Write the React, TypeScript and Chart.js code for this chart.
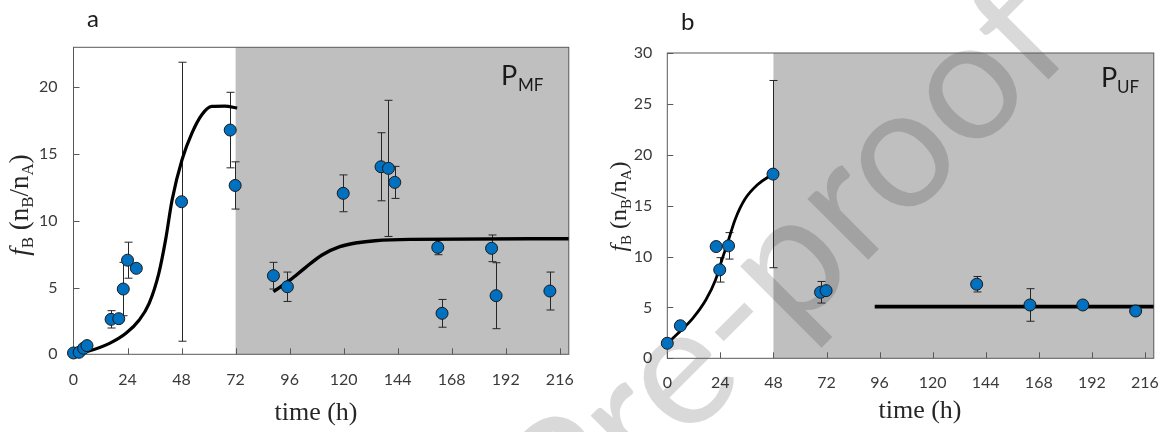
import React, { useEffect, useRef } from 'react';
import { Chart, registerables } from 'chart.js';

Chart.register(...registerables);

// ---------- Panel a data ----------
const aTime = [0, 2.5, 4.5, 6, 16.7, 20.1, 22.1, 24, 27.9, 48, 69.6, 71.8, 88.8, 95, 119.8, 136.6, 139.9, 142.7, 161.8, 163.7, 185.7, 187.7, 211.6];
const aValue = [0.1, 0.15, 0.45, 0.65, 2.62, 2.67, 4.89, 7.05, 6.44, 11.43, 16.8, 12.65, 5.89, 5.06, 12.06, 14.05, 13.93, 12.88, 8.01, 3.07, 7.94, 4.39, 4.74];
const aError = [0, 0, 0, 0, 0.65, 0.2, 2.0, 1.35, 0, 10.45, 2.83, 1.77, 1.0, 1.1, 1.38, 2.55, 5.1, 1.2, 0.55, 1.04, 1.0, 2.47, 1.42];
const aFitGrowthTime = [0, 5.7, 16, 23.3, 29.2, 33.6, 37.9, 40.9, 43.8, 48.2, 52.6, 57, 61.4, 67.2, 72.7];
const aFitGrowthValue = [0.02, 0.19, 0.82, 1.57, 2.57, 3.82, 6.07, 8.57, 11.57, 14.57, 16.57, 17.95, 18.57, 18.6, 18.45];
const aFitPhaseTime = [88.8, 96.3, 102.6, 110.4, 118.3, 126.1, 133.9, 149.6, 220];
const aFitPhaseValue = [4.69, 5.57, 6.44, 7.44, 8.06, 8.36, 8.51, 8.61, 8.66];

// ---------- Panel b data ----------
const bTime = [0, 5.9, 22.1, 23.7, 27.7, 47.8, 69.3, 71.8, 139.9, 164, 187.9, 211.8];
const bValue = [1.48, 3.2, 10.98, 8.69, 11.05, 18.1, 6.49, 6.65, 7.28, 5.24, 5.24, 4.65];
const bError = [0, 0, 0, 1.2, 1.3, 9.2, 1.06, 0.3, 0.76, 1.6, 0, 0];
const bFitGrowthTime = [0, 5.6, 11.5, 17.4, 21.8, 24.7, 27.7, 30.6, 35, 40.9, 47.5];
const bFitGrowthValue = [1.48, 2.62, 3.93, 5.73, 7.7, 9.67, 11.64, 13.6, 15.6, 17.08, 18.07];
const bFitPhaseTime = [93.8, 220];
const bFitPhaseValue = [5.08, 5.08];

// ---------- axes ----------
const TIME_MAX = 220;
const TIME_STEP = 24;
const VALUE_STEP = 5;
const aValueMax = 23;
const bValueMax = 30;
const aShadeFrom = 72;
const bShadeFrom = 48;

const TICK_FONT = 'Lato';
const SERIF = '"Liberation Serif"';

type Run = { t: string; font: string; dy?: number };

function drawRuns(ctx: CanvasRenderingContext2D, runs: Run[], x: number, y: number, center: boolean) {
  let w = 0;
  runs.forEach((r) => {
    ctx.font = r.font;
    w += ctx.measureText(r.t).width;
  });
  let cx = center ? x - w / 2 : x;
  ctx.textAlign = 'left';
  ctx.textBaseline = 'alphabetic';
  runs.forEach((r) => {
    ctx.font = r.font;
    ctx.fillText(r.t, cx, y + (r.dy || 0));
    cx += ctx.measureText(r.t).width;
  });
}

interface PanelCfg {
  width: number;
  offsetX: number;
  padTop: number;
  padRight: number;
  yAxisWidth: number;
  xAxisHeight: number;
  yMax: number;
  shadeFrom: number;
  time: number[];
  value: number[];
  error: number[];
  fits: { x: number[]; y: number[]; w: number }[];
  letter: string;
  letterPos: [number, number];
  phase: string;
  phasePos: [number, number];
  phaseSub: string;
  subPos: [number, number];
  yTitleSize: number;
  yTitlePos: [number, number];
  xTitlePos: [number, number];
  yTickPad: number;
  xTickPad: number;
}

const panelA: PanelCfg = {
  width: 590,
  offsetX: 0,
  padTop: 47.3,
  padRight: 16,
  yAxisWidth: 73.5,
  xAxisHeight: 77.7,
  yMax: aValueMax,
  shadeFrom: aShadeFrom,
  time: aTime,
  value: aValue,
  error: aError,
  fits: [
    { x: aFitGrowthTime, y: aFitGrowthValue, w: 3.2 },
    { x: aFitPhaseTime, y: aFitPhaseValue, w: 3.4 },
  ],
  letter: 'a',
  letterPos: [87, 27],
  phase: 'P',
  phasePos: [501, 85],
  phaseSub: 'MF',
  subPos: [518, 90.7],
  yTitleSize: 27,
  yTitlePos: [27.5, 205],
  xTitlePos: [316, 420],
  yTickPad: 16,
  xTickPad: 16,
};

const panelB: PanelCfg = {
  width: 584,
  offsetX: 590,
  padTop: 53,
  padRight: 8,
  yAxisWidth: 77.3,
  xAxisHeight: 73.7,
  yMax: bValueMax,
  shadeFrom: bShadeFrom,
  time: bTime,
  value: bValue,
  error: bError,
  fits: [
    { x: bFitGrowthTime, y: bFitGrowthValue, w: 2.8 },
    { x: bFitPhaseTime, y: bFitPhaseValue, w: 3.6 },
  ],
  letter: 'b',
  letterPos: [91, 30],
  phase: 'P',
  phasePos: [511, 86.7],
  phaseSub: 'UF',
  subPos: [527, 93.3],
  yTitleSize: 24,
  yTitlePos: [36, 206.5],
  xTitlePos: [330, 418],
  yTickPad: 15,
  xTickPad: 15,
};

function makeDecor(cfg: PanelCfg) {
  return {
    id: 'panelDecor',
    beforeDatasetsDraw(chart: any) {
      const { ctx, chartArea: ca, scales } = chart;
      const xs = scales.x;
      const ys = scales.y;
      ctx.save();
      // shaded phase region
      const gx = xs.getPixelForValue(cfg.shadeFrom);
      ctx.fillStyle = '#bfbfbf';
      ctx.fillRect(gx, ca.top, ca.right - gx, ca.bottom - ca.top);

      // watermark
      ctx.save();
      ctx.translate(572 - cfg.offsetX, 556);
      ctx.rotate(-Math.PI / 4);
      ctx.font = '170px Lato';
      ctx.fillStyle = 'rgba(0,0,0,0.15)';
      ctx.textAlign = 'left';
      ctx.textBaseline = 'alphabetic';
      ctx.fillText('Pre-proof', 0, 0);
      ctx.restore();

      // frame
      ctx.strokeStyle = '#595959';
      ctx.lineWidth = 1;
      ctx.strokeRect(ca.left, ca.top, ca.right - ca.left, ca.bottom - ca.top);
      // inward tick marks
      ctx.beginPath();
      xs.ticks.forEach((t: any) => {
        const px = Math.round(xs.getPixelForValue(t.value)) + 0.5;
        ctx.moveTo(px, ca.bottom);
        ctx.lineTo(px, ca.bottom - 6);
      });
      ys.ticks.forEach((t: any) => {
        const py = Math.round(ys.getPixelForValue(t.value)) + 0.5;
        ctx.moveTo(ca.left, py);
        ctx.lineTo(ca.left + 6, py);
      });
      ctx.stroke();

      // error bars
      ctx.strokeStyle = '#262626';
      ctx.lineWidth = 1;
      ctx.beginPath();
      cfg.time.forEach((t, i) => {
        const e = cfg.error[i];
        if (!e) return;
        const px = Math.round(xs.getPixelForValue(t)) + 0.5;
        const y1 = ys.getPixelForValue(cfg.value[i] + e);
        const y2 = ys.getPixelForValue(cfg.value[i] - e);
        ctx.moveTo(px, y1);
        ctx.lineTo(px, y2);
        ctx.moveTo(px - 4, y1);
        ctx.lineTo(px + 4, y1);
        ctx.moveTo(px - 4, y2);
        ctx.lineTo(px + 4, y2);
      });
      ctx.stroke();
      ctx.restore();
    },
    afterDraw(chart: any) {
      const { ctx } = chart;
      ctx.save();
      ctx.fillStyle = '#1a1a1a';
      // panel letter
      drawRuns(ctx, [{ t: cfg.letter, font: '24px Lato' }], cfg.letterPos[0], cfg.letterPos[1], false);
      // phase label
      drawRuns(ctx, [{ t: cfg.phase, font: '27px Lato' }], cfg.phasePos[0], cfg.phasePos[1], false);
      drawRuns(ctx, [{ t: cfg.phaseSub, font: '17px Lato' }], cfg.subPos[0], cfg.subPos[1], false);
      // x title
      ctx.fillStyle = '#262626';
      drawRuns(ctx, [{ t: 'time (h)', font: `26px ${SERIF}` }], cfg.xTitlePos[0], cfg.xTitlePos[1], true);
      // y title
      const s = cfg.yTitleSize;
      const sub = Math.round(s * 0.62);
      const norm = `${s}px ${SERIF}`;
      const subF = `${sub}px ${SERIF}`;
      const dy = s * 0.2;
      ctx.translate(cfg.yTitlePos[0], cfg.yTitlePos[1]);
      ctx.rotate(-Math.PI / 2);
      drawRuns(
        ctx,
        [
          { t: 'f', font: `italic ${s}px ${SERIF}` },
          { t: 'B', font: subF, dy },
          { t: ' (n', font: norm },
          { t: 'B', font: subF, dy },
          { t: '/n', font: norm },
          { t: 'A', font: subF, dy },
          { t: ')', font: norm },
        ],
        0,
        0,
        true
      );
      ctx.restore();
    },
  };
}

const keepSteps = (step: number) => (s: any) => {
  s.ticks = s.ticks.filter((t: any) => Math.abs(t.value / step - Math.round(t.value / step)) < 1e-6);
};

function PanelChart({ cfg }: { cfg: PanelCfg }) {
  const ref = useRef<HTMLCanvasElement | null>(null);
  useEffect(() => {
    if (!ref.current) return;
    const pointData = cfg.time.map((t, i) => ({ x: t, y: cfg.value[i] }));
    const fitSets = cfg.fits.map((f) => ({
      type: 'line' as const,
      data: f.x.map((t, i) => ({ x: t, y: f.y[i] })),
      borderColor: '#000000',
      borderWidth: f.w,
      pointRadius: 0,
      fill: false,
      cubicInterpolationMode: 'monotone' as const,
      order: 2,
    }));
    const chart = new Chart(ref.current, {
      type: 'scatter',
      data: {
        datasets: [
          {
            type: 'scatter',
            data: pointData,
            pointRadius: 6,
            pointBorderWidth: 1,
            pointBackgroundColor: '#0070c0',
            pointBorderColor: '#1a1a1a',
            clip: false,
            order: 1,
          } as any,
          ...fitSets,
        ],
      },
      options: {
        animation: false,
        responsive: false,
        maintainAspectRatio: false,
        devicePixelRatio: 1,
        events: [],
        layout: { padding: { top: cfg.padTop, right: cfg.padRight, left: 0, bottom: 0 } },
        plugins: { legend: { display: false }, tooltip: { enabled: false } },
        scales: {
          x: {
            type: 'linear',
            min: 0,
            max: TIME_MAX,
            bounds: 'data',
            grid: { display: false, drawTicks: false },
            border: { display: false },
            ticks: {
              stepSize: TIME_STEP,
              padding: cfg.xTickPad,
              maxRotation: 0,
              autoSkip: false,
              color: '#3a3a3a',
              font: { family: TICK_FONT, size: 16 },
            },
            afterBuildTicks: keepSteps(TIME_STEP),
            afterFit: (s: any) => {
              s.height = cfg.xAxisHeight;
            },
          },
          y: {
            type: 'linear',
            min: 0,
            max: cfg.yMax,
            bounds: 'data',
            grid: { display: false, drawTicks: false },
            border: { display: false },
            ticks: {
              stepSize: VALUE_STEP,
              padding: cfg.yTickPad,
              color: '#3a3a3a',
              font: { family: TICK_FONT, size: 16 },
            },
            afterBuildTicks: keepSteps(VALUE_STEP),
            afterFit: (s: any) => {
              s.width = cfg.yAxisWidth;
            },
          },
        },
      } as any,
      plugins: [makeDecor(cfg)],
    });
    return () => chart.destroy();
  }, [cfg]);
  return (
    <canvas
      ref={ref}
      width={cfg.width}
      height={432}
      style={{ position: 'absolute', left: cfg.offsetX, top: 0, width: cfg.width, height: 432 }}
    />
  );
}

export default function App() {
  return (
    <div style={{ position: 'absolute', left: 0, top: 0, width: 1174, height: 432, background: '#ffffff', overflow: 'hidden' }}>
      <PanelChart cfg={panelA} />
      <PanelChart cfg={panelB} />
    </div>
  );
}
